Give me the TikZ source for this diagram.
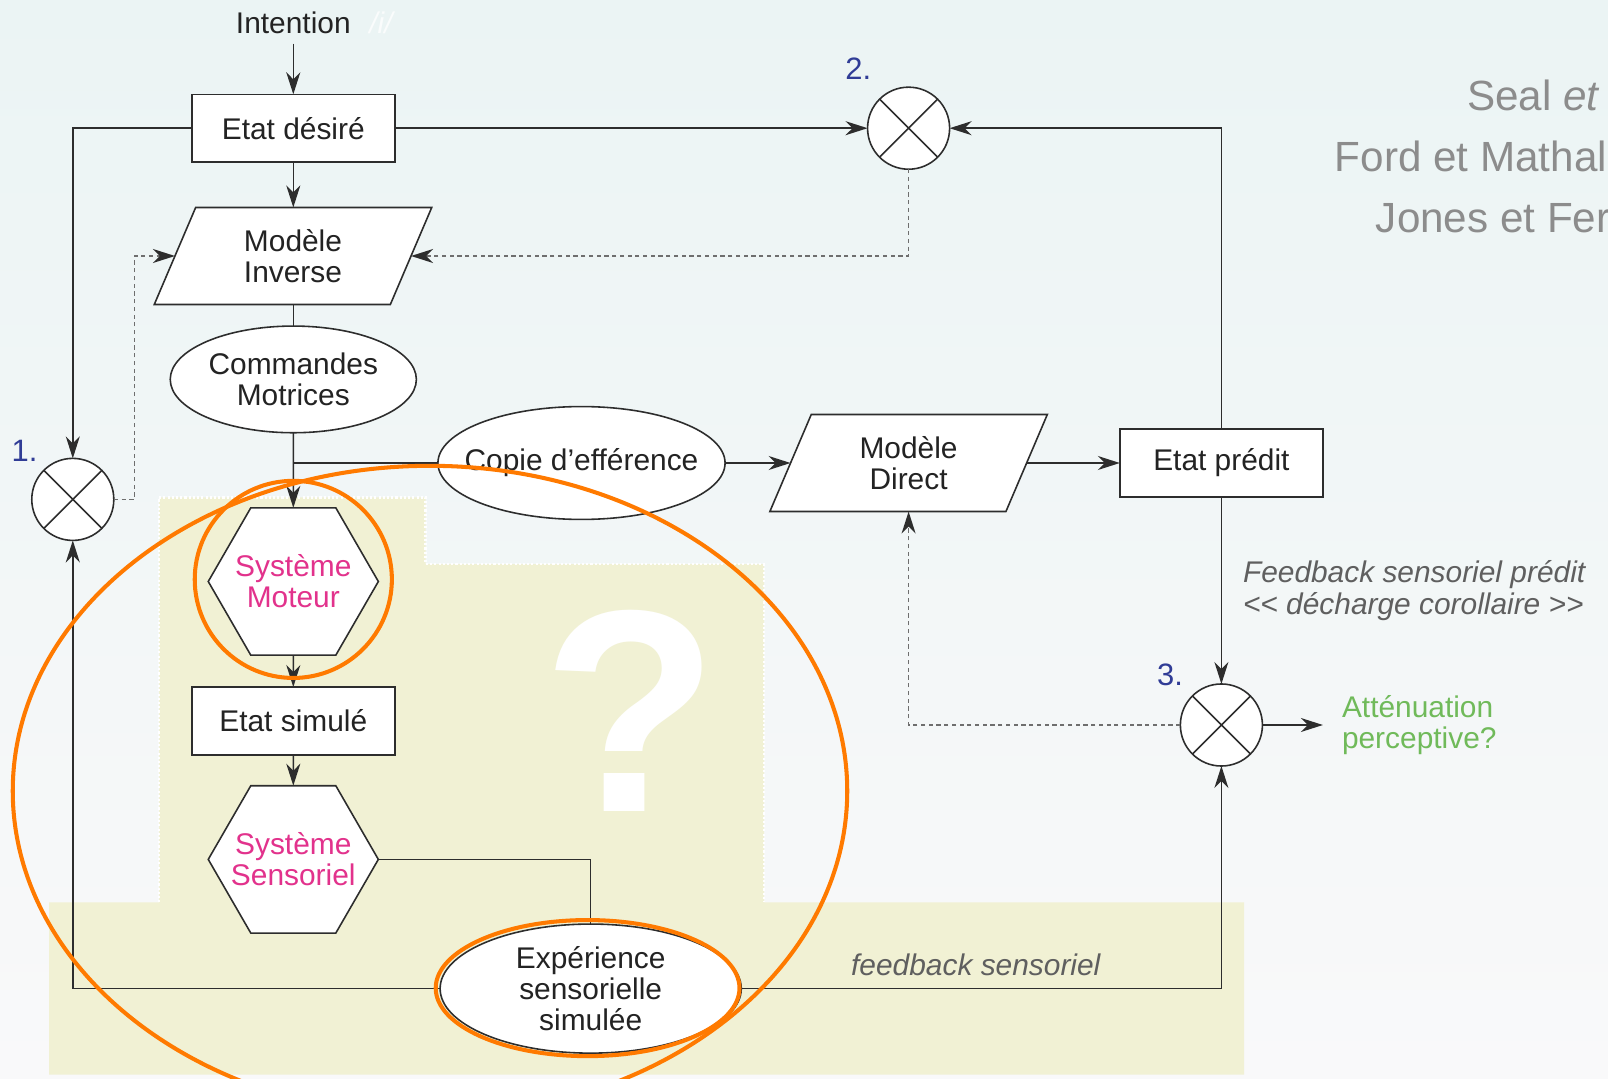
\documentclass[tikz,border=0pt]{standalone}
\usepackage{fontspec}
\setmainfont{Liberation Sans}
\usetikzlibrary{shapes.geometric,arrows.meta}
\definecolor{bgtop}{RGB}{235,244,244}
\definecolor{bgbot}{RGB}{249,249,250}
\definecolor{beigezone}{RGB}{241,241,212}
\definecolor{ink}{RGB}{35,35,35}
\definecolor{lineink}{RGB}{45,45,45}
\definecolor{numblue}{RGB}{48,60,150}
\definecolor{sysmag}{RGB}{226,50,140}
\definecolor{greenatt}{RGB}{112,186,90}
\definecolor{graytxt}{RGB}{95,95,95}
\definecolor{refgray}{RGB}{140,140,140}
\definecolor{orng}{RGB}{255,122,0}
\definecolor{dotgray}{RGB}{110,110,110}
\definecolor{faintwhite}{RGB}{250,252,252}
\pgfdeclarelayer{bglayer}
\pgfdeclarelayer{frontlayer}
\pgfsetlayers{bglayer,main,frontlayer}
\tikzset{
  basetext/.style={font=\fontsize{8.5}{8.8}\selectfont, text=ink, align=center, inner sep=0pt, outer sep=0pt},
  boxnode/.style={basetext, draw=lineink, fill=white, line width=0.45pt, minimum width=2.03cm, minimum height=0.677cm},
  paranode/.style={basetext, draw=lineink, fill=white, line width=0.45pt, trapezium, trapezium left angle=68.6, trapezium right angle=111.4, trapezium stretches=true, minimum width=2.78cm, minimum height=0.97cm},
  ovalnode/.style={basetext, draw=lineink, fill=white, line width=0.45pt, ellipse},
  hexnode/.style={basetext, draw=lineink, fill=white, line width=0.45pt, regular polygon, regular polygon sides=6, inner xsep=-0.55cm, inner ysep=-0.25cm, minimum size=1.70cm, text=sysmag},
  junction/.style={draw=lineink, fill=white, circle, minimum size=0.82cm, inner sep=0pt, outer sep=0pt, line width=0.45pt},
  conn/.style={draw=lineink, line width=0.45pt},
  arr/.style={conn, -{Stealth[length=2.2mm, width=1.4mm, inset=0.7mm]}},
  dotconn/.style={draw=dotgray, line width=0.45pt, dash pattern=on 1.2pt off 1pt, -{Stealth[length=2.2mm, width=1.4mm, inset=0.7mm, color=lineink]}},
  numlab/.style={font=\fontsize{8.8}{8.8}\selectfont, text=numblue, inner sep=0pt},
  reftext/.style={font=\fontsize{12}{12}\selectfont, text=refgray, inner sep=0pt},
  grayital/.style={basetext, text=graytxt, font=\fontsize{8.5}{9.2}\selectfont\itshape},
  ring/.style={draw=orng, line width=1.15pt},
}
\begin{document}
\begin{tikzpicture}[x=0.01cm, y=-0.01cm]
\useasboundingbox (0,0) rectangle (1608,1079);
\begin{pgfonlayer}{bglayer}
  \shade[top color=bgtop, bottom color=bgbot] (0,0) rectangle (1608,1079);
  \fill[beigezone] (159,497.4) -- (425.6,497.4) -- (425.6,564) -- (764,564) -- (764,902.4)
     -- (1244,902.4) -- (1244,1074.7) -- (49.2,1074.7) -- (49.2,902.4) -- (159,902.4) -- cycle;
  \draw[white, line width=0.8pt, dash pattern=on 0.6pt off 0.6pt] (159,902.4) -- (159,497.4) -- (425.6,497.4) -- (425.6,564) -- (764,564) -- (764,902.4);
  \node[font=\fontsize{82}{82}\selectfont\bfseries, text=white, inner sep=0pt] (qm) at (630.7,710.7) {?};
\end{pgfonlayer}

% text labels
\node[basetext, inner sep=0.1cm] (int) at (293.3,22.6) {Intention};
\node[basetext, text=faintwhite, font=\fontsize{8.5}{8.8}\selectfont\itshape] (ii) at (381,22.6) {/i/};

% main nodes
\node[boxnode] (ed) at (293.3,128.2) {Etat désiré};
\node[paranode] (mi) at (293,256) {Modèle\\Inverse};
\node[ovalnode, minimum width=2.46cm, minimum height=1.066cm] (cm) at (293.3,379.4) {Commandes\\Motrices};
\node[ovalnode, inner xsep=-0.19cm, minimum width=2.87cm, minimum height=1.128cm] (ce) at (581.5,463) {Copie d’efférence};
\node[paranode] (md) at (908.6,463) {Modèle\\Direct};
\node[boxnode] (ep) at (1221.4,463) {Etat prédit};
\node[junction] (c1) at (72.8,499.4) {};
\node[junction] (c2) at (908.6,128.2) {};
\node[junction] (c3) at (1221.4,725) {};
\node[hexnode] (sm) at (293.3,581.5) {Système\\Moteur};
\node[boxnode] (es) at (293.3,720.9) {Etat simulé};
\node[hexnode] (ss) at (293.3,859.4) {Système\\Sensoriel};
\node[ovalnode, minimum width=3.01cm, minimum height=1.29cm] (ex) at (590.7,988.6) {Expérience\\sensorielle\\simulée};

\foreach \c in {c1,c2,c3} \draw[conn] (\c.45) -- (\c.225) (\c.135) -- (\c.315);

% number labels
\node[numlab] (n1) at (24.6,451.2) {1.};
\node[numlab] (n2) at (858.4,68.7) {2.};
\node[numlab] (n3) at (1170,674.8) {3.};

% side texts
\node[basetext, text=greenatt, anchor=west, align=left] (att) at (1342,725) {Atténuation\\perceptive?};
\node[grayital, anchor=west, align=left] (fsp) at (1243,590.6) {Feedback sensoriel prédit\\<\kern0pt< décharge corollaire >\kern0pt>};
\node[grayital] (fs) at (975.8,965) {feedback sensoriel};
\node[reftext, anchor=base west] (r1) at (1466.5,110.4) {Seal \textit{et}};
\node[reftext, anchor=base west] (r2) at (1334.2,171.9) {Ford et Mathal};
\node[reftext, anchor=base west] (r3) at (1375.2,232.4) {Jones et Fer};

% coordinates
\coordinate (k1) at (134.3,499.4);
\coordinate (attend) at (1322.9,725);

% connectors
\draw[arr] (int.south) -- (ed.north);
\draw[arr] (ed.south) -- (ed.south |- mi.north);
\draw[conn] (cm.north |- mi.south) -- (cm.north);
\draw[arr] (cm.south) -- (sm.north);
\draw[conn] (cm.south |- ce.west) -- (ce.west);
\draw[arr] (ce.east) -- (md.left side);
\draw[arr] (md.right side) -- (ep.west);
\draw[arr] (ep.south) -- (c3.north);
\draw[arr] (ep.north) |- (c2.east);
\draw[arr] (ed.east) -- (c2.west);
\draw[arr] (ed.west) -| (c1.north);
\draw[dotconn] (c1.east) -- (k1) |- (mi.left side);
\draw[dotconn] (c2.south) |- (mi.right side);
\draw[dotconn] (c3.west) -| (c2 |- md.south);
\draw[arr] (c3.east) -- (attend);
\draw[arr] (sm.south) -- (es.north);
\draw[arr] (es.south) -- (ss.north);
\draw[conn] (ss.east) -| (ex.north);
\draw[arr] (ex.west) -| (c1.south);
\draw[arr] (ex.east) -| (c3.south);

% orange highlights
\begin{pgfonlayer}{frontlayer}
  \draw[ring] (430,791) ellipse [x radius=4.17cm, y radius=3.25cm];
  \draw[ring] (293.3,579.4) circle [radius=0.985cm];
  \draw[ring] (587.6,988.1) ellipse [x radius=1.518cm, y radius=0.68cm];
\end{pgfonlayer}
\end{tikzpicture}
\end{document}
